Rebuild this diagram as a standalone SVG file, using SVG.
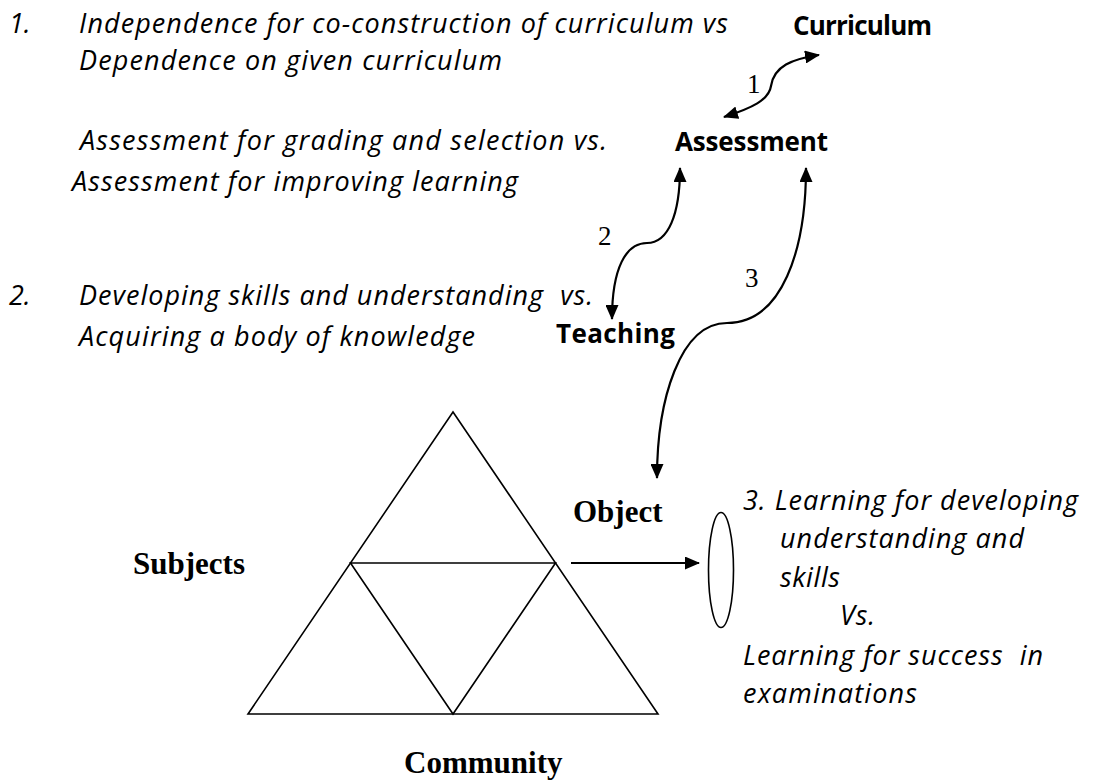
<svg xmlns="http://www.w3.org/2000/svg" width="1097" height="780" viewBox="0 0 1097 780">
<style>
.it{font-family:"Open Sans","Liberation Sans",sans-serif;font-style:italic;font-size:27px;fill:#000}
.bl{font-family:"Open Sans","Liberation Sans",sans-serif;font-weight:bold;font-size:26px;fill:#000}
.sb{font-family:"Liberation Serif","Times New Roman",serif;font-weight:bold;font-size:31px;fill:#000}
.num{font-family:"Liberation Serif","Times New Roman",serif;font-size:27px;fill:#000}
.ln{fill:none;stroke:#000;stroke-width:1.6}
.cv{fill:none;stroke:#000;stroke-width:2.2;marker-start:url(#ah);marker-end:url(#ah)}
</style>
<defs>
<marker id="ah" viewBox="0 0 15 13" refX="14" refY="6.5" markerWidth="15" markerHeight="13" markerUnits="userSpaceOnUse" orient="auto-start-reverse"><path d="M0,0 L15,6.5 L0,13 z" fill="#000"/></marker>
<marker id="ah1" viewBox="0 0 15 13" refX="14" refY="6.5" markerWidth="15" markerHeight="13" markerUnits="userSpaceOnUse" orient="auto"><path d="M0,0 L15,6.5 L0,13 z" fill="#000"/></marker>
</defs>
<rect width="1097" height="780" fill="#fff"/>

<g id="text-1">
<text class="it" x="9" y="33">1.</text>
<text class="it" x="79" y="33" textLength="649">Independence for co-construction of curriculum vs</text>
<text class="it" x="79" y="70" textLength="423">Dependence on given curriculum</text>
</g>
<g id="text-assessment">
<text class="it" x="80" y="150" textLength="527">Assessment for grading and selection vs.</text>
<text class="it" x="72" y="191" textLength="446">Assessment for improving learning</text>
</g>
<g id="text-2">
<text class="it" x="9" y="305">2.</text>
<text class="it" x="79" y="305" xml:space="preserve" textLength="514">Developing skills and understanding  vs.</text>
<text class="it" x="79" y="346" textLength="396">Acquiring a body of knowledge</text>
</g>
<g id="text-3">
<text class="it" x="743" y="510" textLength="335">3. Learning for developing</text>
<text class="it" x="780" y="548" textLength="244">understanding and</text>
<text class="it" x="780" y="587" textLength="60">skills</text>
<text class="it" x="840" y="625" textLength="35">Vs.</text>
<text class="it" x="743" y="665" xml:space="preserve" textLength="300">Learning for success  in</text>
<text class="it" x="743" y="703" textLength="174">examinations</text>
</g>

<g id="node-curriculum"><text class="bl" x="793" y="35" textLength="139">Curriculum</text></g>
<g id="node-assessment"><text class="bl" x="675" y="151" textLength="153">Assessment</text></g>
<g id="node-teaching"><text class="bl" x="556" y="343" textLength="119">Teaching</text></g>

<g id="node-triangle">
<polygon class="ln" points="453,412 248,714 658,714"/>
<polygon class="ln" points="350.5,563 555.5,563 453,714"/>
</g>
<g id="node-object"><text class="sb" x="573" y="522">Object</text></g>
<g id="node-subjects"><text class="sb" x="133" y="574">Subjects</text></g>
<g id="node-community"><text class="sb" x="404" y="773">Community</text></g>
<g id="node-oval"><ellipse class="ln" cx="721" cy="570" rx="12.5" ry="57.5"/></g>

<g id="connectors">
<path class="cv" d="M724,117 C752,108 769,100 771,86 C774,66 792,59 819,55"/>
<path class="cv" d="M680,168 C680,215 668,243 647,243 C626,243 612,268 612,319"/>
<path class="cv" d="M806,168 C806,250 782,323 727,323 C680,323 657,400 657,478"/>
<line x1="571" y1="563" x2="699" y2="563" stroke="#000" stroke-width="2" marker-end="url(#ah1)"/>
<text class="num" x="747" y="93">1</text>
<text class="num" x="598" y="245">2</text>
<text class="num" x="745" y="287">3</text>
</g>
</svg>
